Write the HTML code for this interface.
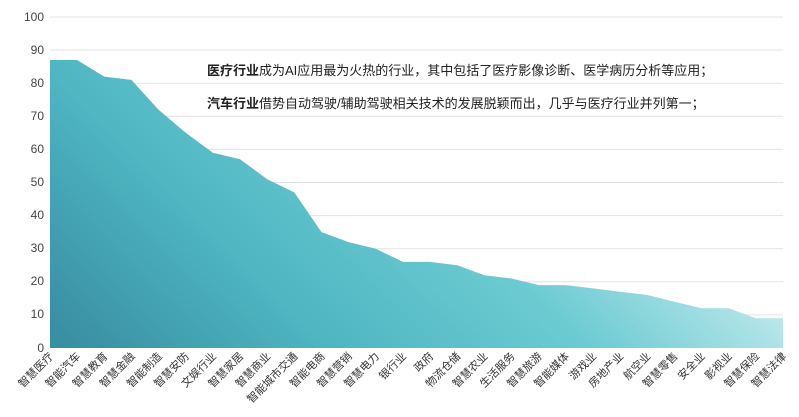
<!DOCTYPE html>
<html><head><meta charset="utf-8"><style>
html,body{margin:0;padding:0;background:#fff;}
svg{display:block;font-family:"Liberation Sans","Noto Sans CJK SC",sans-serif;}
</style></head><body>
<svg width="799" height="417" viewBox="0 0 799 417" xmlns="http://www.w3.org/2000/svg">
<defs>
<linearGradient id="g" x1="0" y1="0.9" x2="1" y2="0.5">
<stop offset="0" stop-color="#3990a2"/>
<stop offset="0.3" stop-color="#4fb6c2"/>
<stop offset="0.6" stop-color="#6ccbd2"/>
<stop offset="0.8" stop-color="#a6e0e4"/>
<stop offset="1" stop-color="#e8f6f8"/>
</linearGradient>
</defs>
<g stroke="#e3e3e3" stroke-width="1">
<line x1="50" x2="783" y1="17" y2="17"/><line x1="50" x2="783" y1="50.1" y2="50.1"/>
<line x1="50" x2="783" y1="83.2" y2="83.2"/><line x1="50" x2="783" y1="116.3" y2="116.3"/>
<line x1="50" x2="783" y1="149.4" y2="149.4"/><line x1="50" x2="783" y1="182.5" y2="182.5"/>
<line x1="50" x2="783" y1="215.6" y2="215.6"/><line x1="50" x2="783" y1="248.7" y2="248.7"/>
<line x1="50" x2="783" y1="281.8" y2="281.8"/><line x1="50" x2="783" y1="314.9" y2="314.9"/>
</g>
<g font-size="12" fill="#444" text-anchor="end">
<text x="44" y="21">100</text><text x="44" y="54">90</text><text x="44" y="87">80</text>
<text x="44" y="120">70</text><text x="44" y="153">60</text><text x="44" y="186">50</text>
<text x="44" y="219">40</text><text x="44" y="252">30</text><text x="44" y="285">20</text>
<text x="44" y="318">10</text><text x="44" y="352">0</text>
</g>
<path id="area" fill="url(#g)" d=""/>
<g id="labels" font-size="11" fill="#333" text-anchor="end"></g>
<text x="207" y="75" font-size="13" fill="#222"><tspan font-weight="bold">医疗行业</tspan>成为AI应用最为火热的行业，其中包括了医疗影像诊断、医学病历分析等应用；</text>
<text x="207" y="108" font-size="13" fill="#222"><tspan font-weight="bold">汽车行业</tspan>借势自动驾驶/辅助驾驶相关技术的发展脱颖而出，几乎与医疗行业并列第一；</text>
</svg>
<script>
var v=[87,87,82,81,72,65,59,57,51,47,35,32,30,26,26,25,22,21,19,19,18,17,16,14,12,12,9,9];
var n=["智慧医疗","智能汽车","智慧教育","智慧金融","智能制造","智慧安防","文娱行业","智慧家居","智慧商业","智能城市交通","智能电商","智慧营销","智慧电力","银行业","政府","物流仓储","智慧农业","生活服务","智慧旅游","智能媒体","游戏业","房地产业","航空业","智慧零售","安全业","影视业","智慧保险","智慧法律"];
var d="M50 348",g=document.getElementById("labels"),h="";
for(var i=0;i<v.length;i++){var x=50+i*(733/27),y=348-v[i]*3.31;d+=" L"+x.toFixed(1)+" "+y.toFixed(1);
h+='<text transform="translate('+(x+4).toFixed(1)+',357) rotate(-45)">'+n[i]+'</text>';}
d+=" L783 348 Z";
document.getElementById("area").setAttribute("d",d);g.innerHTML=h;
</script>
</body></html>
